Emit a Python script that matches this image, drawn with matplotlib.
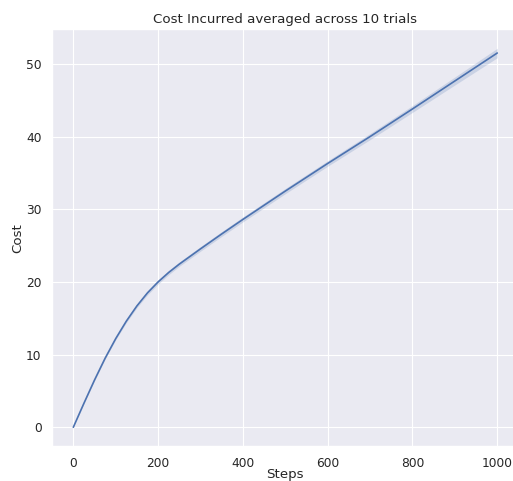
import matplotlib
matplotlib.use("Agg")
import matplotlib.pyplot as plt
import seaborn as sns

# mean cost over the 10 trials, sampled along the run
steps = [0, 25, 50, 75, 100, 125, 150, 175, 200, 225, 250, 300, 350,
         400, 500, 600, 700, 800, 900, 1000]
cost_mean = [0.0, 3.3, 6.5, 9.5, 12.2, 14.6, 16.7, 18.5, 20.0, 21.3, 22.45,
             24.55, 26.6, 28.6, 32.5, 36.3, 40.0, 43.8, 47.65, 51.5]
# half width of the confidence band at each step
cost_spread = [0.0, 0.06, 0.1, 0.13, 0.16, 0.2, 0.24, 0.27, 0.3, 0.3, 0.3,
               0.32, 0.33, 0.34, 0.36, 0.38, 0.42, 0.47, 0.55, 0.65]

lower = [m - s for m, s in zip(cost_mean, cost_spread)]
upper = [m + s for m, s in zip(cost_mean, cost_spread)]

sns.set_theme()
fig = plt.figure(figsize=(513 / 80, 481 / 80), dpi=80)
ax = fig.add_axes([0.1016, 0.0723, 0.909, 0.8667])

color = sns.color_palette()[0]
ax.fill_between(steps, lower, upper, color=color, alpha=0.2, linewidth=0)
ax.plot(steps, cost_mean, color=color, linewidth=1.5)

ax.set_title("Cost Incurred averaged across 10 trials")
ax.set_xlabel("Steps", labelpad=-1.5)
ax.set_ylabel("Cost", labelpad=1.5)

fig.savefig("out.png", dpi=80)
